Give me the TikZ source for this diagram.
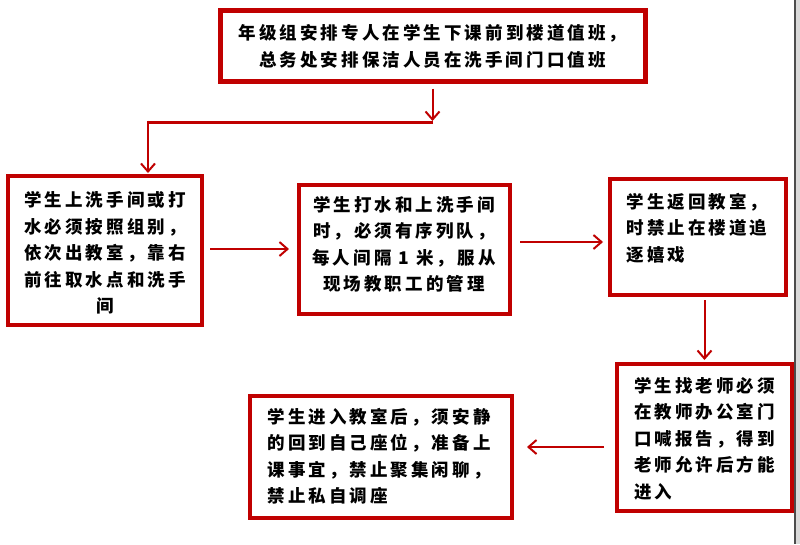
\documentclass[tikz,border=0pt]{standalone}
\usepackage{fontspec}
\newfontfamily\cjk[LetterSpace=17.5]{Noto Sans CJK SC}
\usetikzlibrary{arrows.meta}
\definecolor{dred}{HTML}{C00000}
\begin{document}
\begin{tikzpicture}[x=1pt,y=-1pt,
  box/.style={draw=dred, line width=4pt, rectangle, inner sep=0pt},
  txt/.style={font=\cjk\bfseries\fontsize{17.5}{26.5}\selectfont, inner sep=0pt, text=black},
  arr/.style={draw=dred, line width=2pt, -{Straight Barb[length=8pt,width=14pt]}},
  bus/.style={draw=dred, line width=3pt}]
\useasboundingbox (0,0) rectangle (800,544);
\fill[white] (0,0) rectangle (800,544);
\fill[gray!30] (796,0) rectangle (800,544);
\draw[gray!60!black, line width=1.5pt] (795,0) -- (795,544);

% boxes
\node[box, line width=5pt, minimum width=425pt, minimum height=71pt] (b1) at (432.5,45.5) {};
\node[box, minimum width=194pt, minimum height=149pt] (b2) at (105,250.5) {};
\node[box, minimum width=211pt, minimum height=129pt] (b3) at (404.5,249.5) {};
\node[box, minimum width=176pt, minimum height=116pt] (b4) at (698,237) {};
\node[box, minimum width=175pt, minimum height=147pt] (b5) at (704.5,437.5) {};
\node[box, minimum width=262pt, minimum height=122pt] (b6) at (381,457) {};

% texts
\node[txt, align=center] (t1) at (432.5,46.5) {年级组安排专人在学生下课前到楼道值班，\\总务处安排保洁人员在洗手间门口值班};
\node[txt, align=center] (t2) at (105,253) {学生上洗手间或打\\水必须按照组别，\\依次出教室，靠右\\前往取水点和洗手\\间};
\node[txt, align=center] (t3) at (404,244.5) {学生打水和上洗手间\\时，必须有序列队，\\每人间隔 1 米，服从\\现场教职工的管理};
\node[txt, align=left] (t4) at (697,228) {学生返回教室，\\时禁止在楼道追\\逐嬉戏};
\node[txt, align=left] (t5) at (704.5,438.5) {学生找老师必须\\在教师办公室门\\口喊报告，得到\\老师允许后方能\\进入};
\node[txt, align=left] (t6) at (379,456) {学生进入教室后，须安静\\的回到自己座位，准备上\\课事宜，禁止聚集闲聊，\\禁止私自调座};

% connectors
\coordinate (j1) at (432.5,122);
\coordinate (j2) at (148,122);
\draw[arr, shorten <=5pt, shorten >=1pt] (b1.south) -- (j1);
\draw[bus] ([xshift=0.5pt]j1) -- ([xshift=-1.5pt]j2);
\draw[arr, shorten >=1pt] ([yshift=1.5pt]j2) -- (j2 |- b2.north);
\draw[arr, shorten <=6pt, shorten >=8pt] ([yshift=1.5pt]b2.east) -- ([yshift=1.5pt]b2.east -| b3.west);
\draw[arr, shorten <=8pt, shorten >=5pt] ([yshift=7.5pt]b3.east) -- ([yshift=7.5pt]b3.east -| b4.west);
\draw[arr, shorten <=3pt, shorten >=2pt] (b4.south -| b5.north) -- (b5.north);
\draw[arr, shorten <=11pt, shorten >=13pt] ([yshift=-9.5pt]b5.west) -- ([yshift=-9.5pt]b5.west -| b6.east);
\end{tikzpicture}
\end{document}
